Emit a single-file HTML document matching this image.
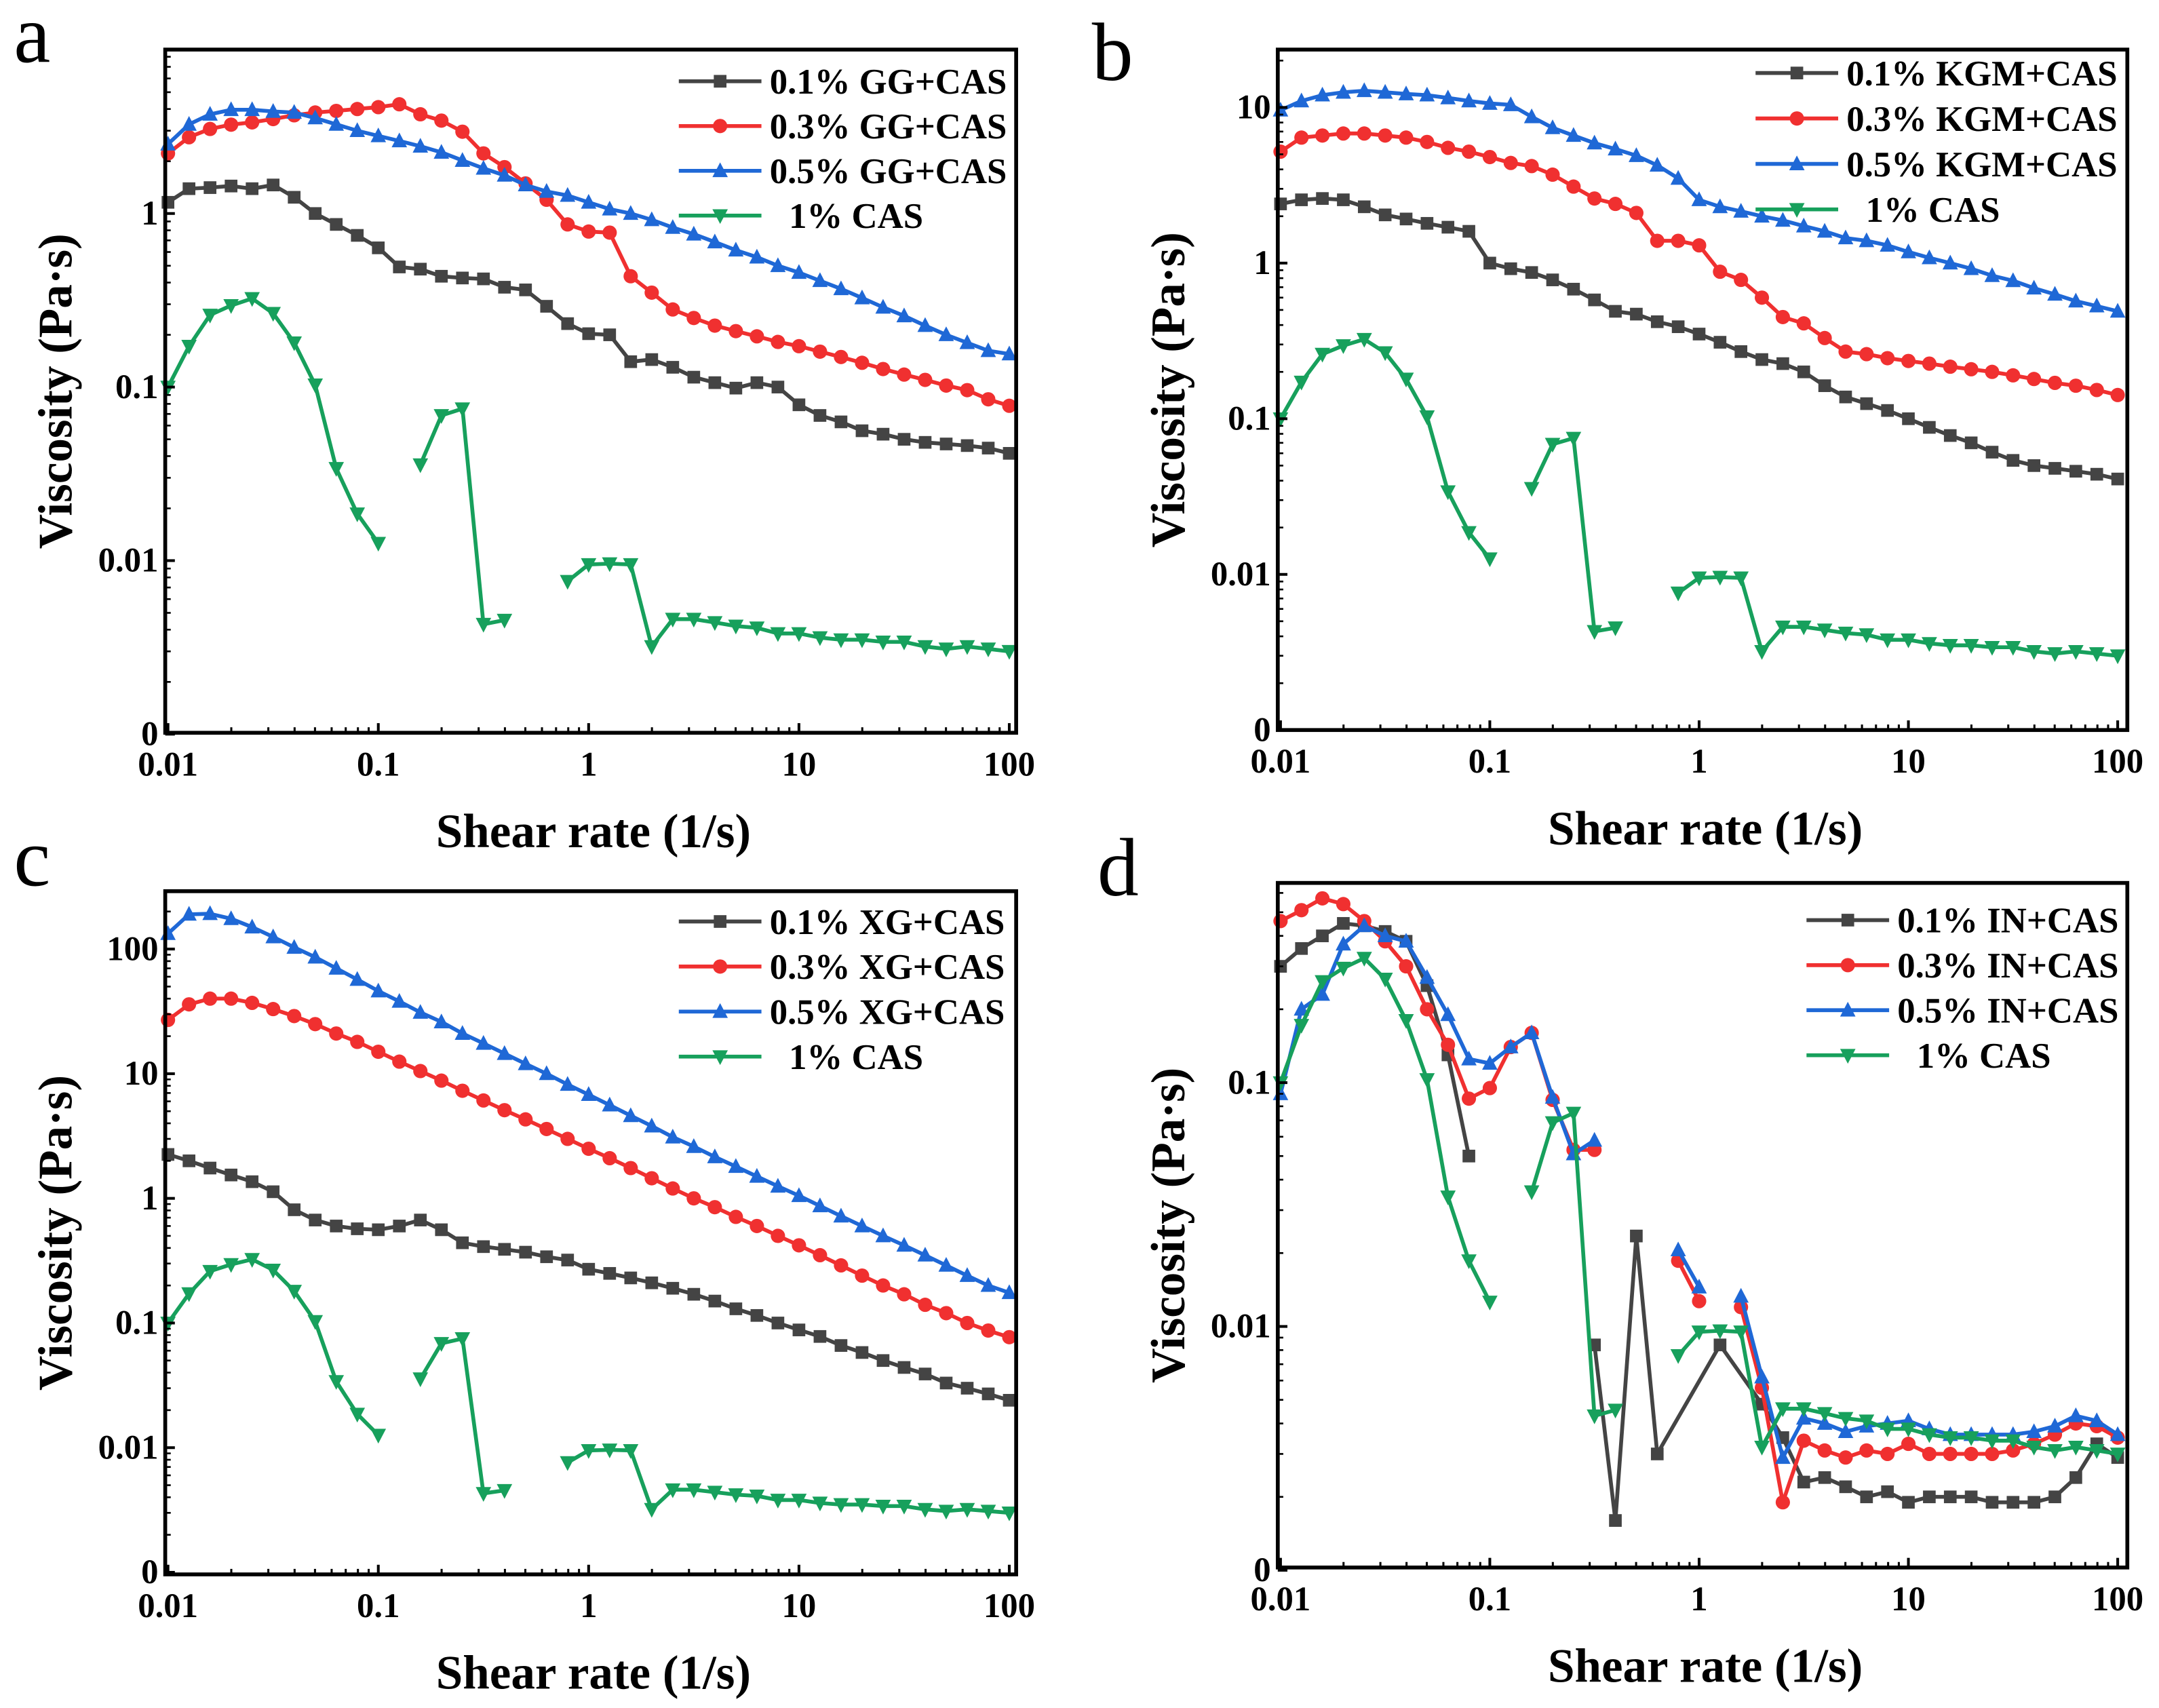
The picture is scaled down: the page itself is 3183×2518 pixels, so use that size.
<!DOCTYPE html>
<html><head><meta charset="utf-8"><style>
html,body{margin:0;padding:0;background:#fff;}
svg{display:block;}
text{font-family:"Liberation Serif",serif;}
</style></head><body>
<svg id="fig" width="3183" height="2518" viewBox="0 0 1568 1240" preserveAspectRatio="none" xmlns="http://www.w3.org/2000/svg"></svg>
<script>
const shearRates = [];
for (let i = 0; i <= 40; i++) shearRates.push(Math.pow(10, -2 + i / 10));
const cas = [0.1,0.172,0.26,0.295,0.324,0.266,0.18,0.103,0.034,0.0186,0.0126,null,0.0357,0.0686,0.075,0.0043,0.00454,null,null,0.0076,0.0095,0.0096,0.0095,0.0032,0.0046,0.0046,0.0044,0.0042,0.0041,0.0038,0.0038,0.0036,0.0035,0.0035,0.0034,0.0034,0.0032,0.0031,0.0032,0.0031,0.003];
const gg01 = [1.16,1.39,1.41,1.44,1.39,1.46,1.24,1.0,0.865,0.748,0.634,0.492,0.478,0.435,0.425,0.42,0.376,0.363,0.292,0.232,0.203,0.2,0.14,0.144,0.13,0.114,0.106,0.0986,0.106,0.1,0.079,0.0686,0.063,0.056,0.0535,0.05,0.048,0.047,0.046,0.0445,0.0415];
const gg03 = [2.22,2.75,3.07,3.25,3.35,3.5,3.68,3.82,3.9,4.0,4.1,4.26,3.73,3.43,2.96,2.22,1.85,1.49,1.2,0.865,0.787,0.776,0.435,0.35,0.28,0.25,0.226,0.21,0.196,0.182,0.172,0.16,0.149,0.138,0.127,0.118,0.11,0.102,0.096,0.085,0.078];
const gg05 = [2.51,3.26,3.73,3.96,3.96,3.87,3.82,3.55,3.26,3.0,2.8,2.62,2.44,2.25,2.02,1.82,1.66,1.46,1.34,1.27,1.16,1.06,1.0,0.92,0.83,0.76,0.685,0.615,0.56,0.5,0.457,0.41,0.368,0.326,0.288,0.257,0.226,0.2,0.18,0.162,0.155];
const kgm01 = [2.4,2.55,2.6,2.55,2.3,2.04,1.92,1.8,1.7,1.6,1.0,0.92,0.87,0.78,0.68,0.58,0.49,0.47,0.42,0.39,0.35,0.31,0.27,0.24,0.226,0.2,0.163,0.138,0.125,0.113,0.1,0.088,0.078,0.07,0.061,0.054,0.05,0.048,0.046,0.044,0.041];
const kgm03 = [5.2,6.4,6.6,6.8,6.8,6.6,6.4,6.0,5.5,5.2,4.8,4.4,4.2,3.7,3.1,2.6,2.4,2.1,1.39,1.39,1.3,0.88,0.78,0.6,0.45,0.41,0.33,0.27,0.26,0.245,0.235,0.226,0.216,0.208,0.2,0.19,0.18,0.17,0.163,0.153,0.142];
const kgm05 = [9.6,11,12,12.5,12.8,12.5,12.2,12,11.5,11,10.6,10.4,8.7,7.4,6.6,5.9,5.4,4.9,4.25,3.5,2.55,2.3,2.15,2.0,1.88,1.73,1.6,1.45,1.39,1.3,1.18,1.08,1.0,0.92,0.83,0.77,0.69,0.63,0.57,0.53,0.49];
const xg01 = [2.25,2.0,1.75,1.54,1.36,1.13,0.81,0.67,0.6,0.57,0.56,0.6,0.67,0.56,0.44,0.41,0.39,0.37,0.34,0.32,0.27,0.25,0.23,0.21,0.19,0.17,0.15,0.13,0.115,0.1,0.088,0.078,0.066,0.058,0.05,0.044,0.039,0.033,0.03,0.027,0.024];
const xg03 = [27,36,40,40,37,33,29,25,21,18,15,12.5,10.5,8.8,7.3,6.1,5.1,4.3,3.6,3.0,2.5,2.1,1.75,1.45,1.2,1.0,0.85,0.71,0.6,0.5,0.42,0.35,0.29,0.24,0.2,0.17,0.14,0.12,0.1,0.087,0.077];
const xg05 = [133,190,192,175,150,125,103,86,70,57,46,38,31,26,21,17.5,14.5,12,10,8.2,6.8,5.6,4.6,3.8,3.1,2.6,2.15,1.8,1.5,1.25,1.05,0.87,0.72,0.6,0.5,0.42,0.35,0.29,0.24,0.2,0.175];
const in01 = [0.3,0.355,0.4,0.45,0.44,0.417,0.38,0.25,0.13,0.05,null,null,null,null,null,0.0084,0.0016,0.0235,0.003,null,null,0.0084,null,0.0048,0.0035,0.0023,0.0024,0.0022,0.002,0.0021,0.0019,0.002,0.002,0.002,0.0019,0.0019,0.0019,0.002,0.0024,0.0033,0.0029];
const in03 = [0.46,0.51,0.57,0.54,0.46,0.38,0.3,0.2,0.143,0.086,0.095,0.14,0.16,0.085,0.053,0.053,null,null,null,0.0186,0.0127,null,0.012,0.0056,0.0019,0.0034,0.0031,0.0029,0.0031,0.003,0.0033,0.003,0.003,0.003,0.003,0.0031,0.0033,0.0036,0.004,0.0039,0.0035];
const in05 = [0.09,0.2,0.23,0.37,0.44,0.4,0.38,0.27,0.19,0.125,0.12,0.14,0.16,0.087,0.051,0.058,null,null,null,0.0206,0.0145,null,0.0133,0.0062,0.0029,0.0042,0.004,0.0037,0.0039,0.004,0.0041,0.0038,0.0036,0.0036,0.0036,0.0036,0.0037,0.0039,0.0043,0.0041,0.0036];
const xTickLabels = ["0.01","0.1","1","10","100"];
const xTickValues = [0.01,0.1,1,10,100];

const NS = "http://www.w3.org/2000/svg";
const svg = document.getElementById("fig");
const COL = {k:"#444444", r:"#f03030", b:"#1f68d6", g:"#17a05c"};
function mk(tag, attrs, parent){ const e=document.createElementNS(NS,tag); for(const k in attrs) e.setAttribute(k,attrs[k]); (parent||svg).appendChild(e); return e; }

function marker(g, shape, x, y, color){
  const s=4.6; let e;
  if(shape==="sq") e=mk("rect",{x:x-s,y:y-s,width:2*s,height:2*s,fill:color},g);
  else if(shape==="ci") e=mk("circle",{cx:x,cy:y,r:s+0.6,fill:color},g);
  else if(shape==="up") e=mk("polygon",{points:`${x},${y-s-1.5} ${x+s+1},${y+s} ${x-s-1},${y+s}`,fill:color},g);
  else e=mk("polygon",{points:`${x},${y+s+1.5} ${x+s+1},${y-s} ${x-s-1},${y-s}`,fill:color},g);
  
  
}

function panel(p){
  const g=mk("g",{});
  
  
  const xs=v=>p.x0+p.xDec*Math.log10(v/0.01);
  const ys=v=>p.yRef-p.yDec*Math.log10(v/p.vRef);
  p.series.forEach(s=>{
    const sg=mk("g",{},g);
    
    
    let d="", pen=false;
    s.data.forEach((v,i)=>{
      if(v==null){pen=false;return;}
      const X=xs(shearRates[i]), Y=ys(v);
      d+=(pen?"L":"M")+X.toFixed(1)+","+Y.toFixed(1); pen=true;
    });
    (s.bridge||[]).forEach(([a,b])=>{
      d+="M"+xs(shearRates[a]).toFixed(1)+","+ys(s.data[a]).toFixed(1)+"L"+xs(shearRates[b]).toFixed(1)+","+ys(s.data[b]).toFixed(1);
    });
    const pl=mk("path",{d:d,fill:"none",stroke:s.c,"stroke-width":2.8,"stroke-linejoin":"round"},sg);
    
    
    s.data.forEach((v,i)=>{ if(v!=null) marker(sg,s.m,xs(shearRates[i]),ys(v),s.c); });
  });
  const fr=mk("rect",{x:p.L,y:p.T,width:p.R-p.L,height:p.B-p.T,fill:"none",stroke:"#000","stroke-width":2.8},g);
  
  
  xTickValues.forEach((v,i)=>{
    const X=xs(v);
    mk("line",{x1:X,y1:p.B,x2:X,y2:p.B-7,stroke:"#000","stroke-width":2},g);
    const t=mk("text",{x:X,y:p.B+31,"text-anchor":"middle","font-size":25,"font-weight":"bold"},g);
    t.textContent=xTickLabels[i];
    
    
    if(i<4) for(let m=2;m<10;m++){ const Xm=xs(v*m); mk("line",{x1:Xm,y1:p.B,x2:Xm,y2:p.B-4,stroke:"#000","stroke-width":1.5},g); }
  });
  p.yTicks.forEach((v,i)=>{
    const Y=ys(v);
    mk("line",{x1:p.L,y1:Y,x2:p.L+7,y2:Y,stroke:"#000","stroke-width":2},g);
    const t=mk("text",{x:p.L-5,y:Y+8,"text-anchor":"end","font-size":25,"font-weight":"bold"},g);
    t.textContent=p.yLabels[i];
    
    
  });
  for(let e=-3;e<3;e++) for(let m=2;m<10;m++){ const Y=ys(m*Math.pow(10,e)); if(Y>p.T+2&&Y<p.B-2) mk("line",{x1:p.L,y1:Y,x2:p.L+4,y2:Y,stroke:"#000","stroke-width":1.3},g); }
  const xt=mk("text",{x:(p.L+p.R)/2+2,y:p.B+83,"text-anchor":"middle","font-size":35,"font-weight":"bold"},g);
  xt.textContent="Shear rate (1/s)";
  
  
  const yt=mk("text",{x:0,y:0,"text-anchor":"middle","font-size":35,"font-weight":"bold",transform:`translate(${p.L-68},${(p.T+p.B)/2}) rotate(-90)`},g);
  yt.textContent="Viscosity (Pa·s)";
  
  
  const lt=mk("text",{x:p.lx,y:p.ly,"font-size":60},g);
  lt.textContent=p.letter;
  
  
  p.series.forEach((s,i)=>{
    const Y=p.legY+i*p.legDy;
    const lg=mk("g",{},g);
    
    
    mk("line",{x1:p.legX,y1:Y,x2:p.legX+60,y2:Y,stroke:s.c,"stroke-width":2.8},lg);
    marker(lg,s.m,p.legX+30,Y,s.c);
    const t=mk("text",{x:p.legX+66+(s.key==="cas"?14:0),y:Y+9,"font-size":26,"font-weight":"bold"},lg);
    t.textContent=s.label;
  });
}

panel({letter:"a",lx:10,ly:45,L:120,R:738,T:36,B:532,x0:122,xDec:152.75,vRef:1,yRef:155,yDec:126,
  yTicks:[0.001,0.01,0.1,1],yLabels:["0","0.01","0.1","1"],legX:493,legY:59,legDy:32.5,
  series:[{key:"gg01",data:gg01,c:COL.k,m:"sq",label:"0.1% GG+CAS"},{key:"gg03",data:gg03,c:COL.r,m:"ci",label:"0.3% GG+CAS"},{key:"gg05",data:gg05,c:COL.b,m:"up",label:"0.5% GG+CAS"},{key:"cas",data:cas,c:COL.g,m:"dn",label:"1%  CAS"}]});
panel({letter:"b",lx:793,ly:58,L:928,R:1545,T:36,B:530,x0:930,xDec:152,vRef:1,yRef:191,yDec:113,
  yTicks:[0.001,0.01,0.1,1,10],yLabels:["0","0.01","0.1","1","10"],legX:1275,legY:53,legDy:33,
  series:[{key:"kgm01",data:kgm01,c:COL.k,m:"sq",label:"0.1% KGM+CAS"},{key:"kgm03",data:kgm03,c:COL.r,m:"ci",label:"0.3% KGM+CAS"},{key:"kgm05",data:kgm05,c:COL.b,m:"up",label:"0.5% KGM+CAS"},{key:"cas",data:cas,c:COL.g,m:"dn",label:"1%  CAS"}]});
panel({letter:"c",lx:10,ly:643,L:120,R:738,T:647,B:1143,x0:122,xDec:152.75,vRef:1,yRef:870,yDec:90.5,
  yTicks:[0.001,0.01,0.1,1,10,100],yLabels:["0","0.01","0.1","1","10","100"],legX:493,legY:669,legDy:32.7,
  series:[{key:"xg01",data:xg01,c:COL.k,m:"sq",label:"0.1% XG+CAS"},{key:"xg03",data:xg03,c:COL.r,m:"ci",label:"0.3% XG+CAS"},{key:"xg05",data:xg05,c:COL.b,m:"up",label:"0.5% XG+CAS"},{key:"cas",data:cas,c:COL.g,m:"dn",label:"1% CAS"}]});
panel({letter:"d",lx:797,ly:650,L:928,R:1545,T:641,B:1138,x0:930,xDec:152,vRef:0.1,yRef:786,yDec:177,
  yTicks:[0.001,0.01,0.1],yLabels:["0","0.01","0.1"],legX:1312,legY:668,legDy:32.7,
  series:[{key:"in01",data:in01,c:COL.k,m:"sq",label:"0.1% IN+CAS",bridge:[[18,21],[21,23]]},{key:"in03",data:in03,c:COL.r,m:"ci",label:"0.3% IN+CAS"},{key:"in05",data:in05,c:COL.b,m:"up",label:"0.5% IN+CAS"},{key:"cas",data:cas,c:COL.g,m:"dn",label:"1% CAS"}]});
</script>
</body></html>
